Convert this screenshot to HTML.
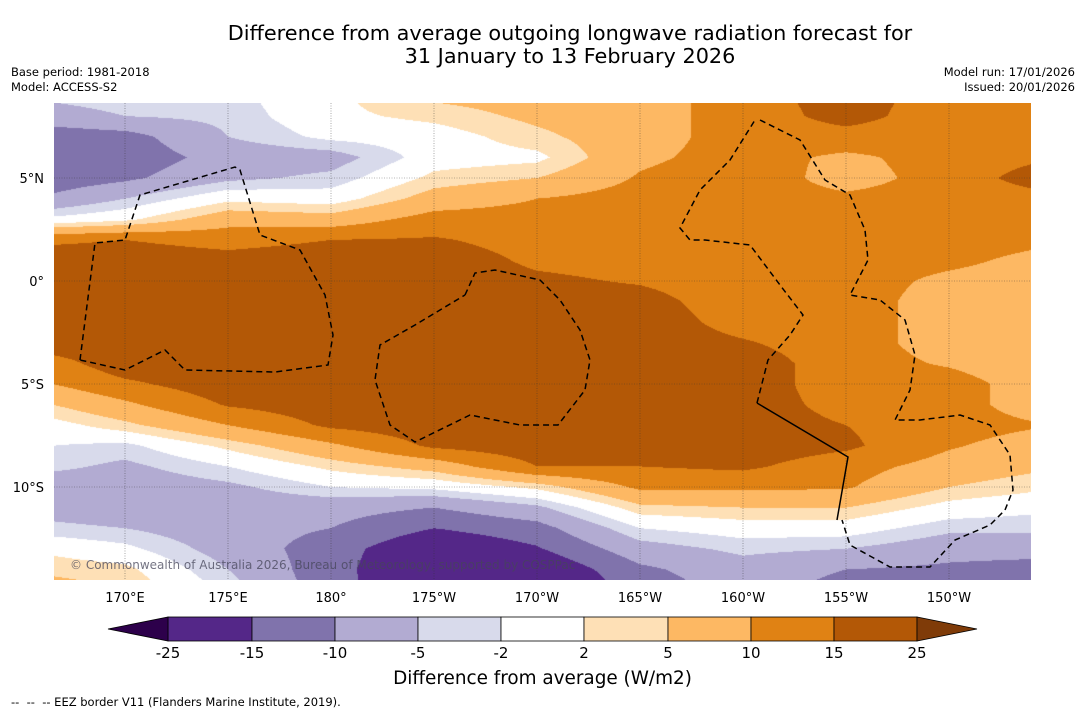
<!DOCTYPE html>
<html><head><meta charset="utf-8"><style>
body{margin:0;background:#fff;width:1085px;height:713px;overflow:hidden;position:relative;font-family:"Liberation Sans","DejaVu Sans",sans-serif;}
.t{position:absolute;color:#000;white-space:nowrap}
</style></head><body>
<div class="t" style="left:0;width:1140px;text-align:center;top:22px;font-size:20.8px;line-height:23px;font-family:'DejaVu Sans',sans-serif">Difference from average outgoing longwave radiation forecast for<br>31 January to 13 February 2026</div>
<div class="t" style="left:11px;top:65px;font-size:11.5px;line-height:15px;font-family:'DejaVu Sans',sans-serif">Base period: 1981-2018<br>Model: ACCESS-S2</div>
<div class="t" style="right:10px;top:65px;font-size:11.5px;line-height:15px;text-align:right;font-family:'DejaVu Sans',sans-serif">Model run: 17/01/2026<br>Issued: 20/01/2026</div>
<canvas id="map" width="977" height="477" style="position:absolute;left:54px;top:103px"></canvas>
<svg id="ov" width="1085" height="713" style="position:absolute;left:0;top:0"></svg>
<div class="t" style="left:70px;top:558px;font-size:12px;color:rgba(70,70,90,0.75);font-family:'DejaVu Sans',sans-serif">© Commonwealth of Australia 2026, Bureau of Meteorology, supported by COSPPac</div>
<div class="t" style="left:0;width:1085px;text-align:center;top:668px;font-size:18.4px;font-family:'DejaVu Sans',sans-serif">Difference from average (W/m2)</div>
<div class="t" style="left:11px;top:695px;font-size:11.5px;font-family:'DejaVu Sans',sans-serif">-- &nbsp;-- &nbsp;-- EEZ border V11 (Flanders Marine Institute, 2019).</div>
<script>
const lons=[166.5,170,175,180,185,190,195,200,205,210,214];
const lats=[9,8,7,6,5,4,3,2,1,0,-1,-2,-3,-4,-5,-6,-7,-8,-9,-10,-11,-12,-13,-14,-15];
const colA=[-4,-7,-13,-13,-13,-9,-1,14,18,18,18,18,18,13,10,5,0.5,-2,-4,-8,-7,-4,1,4,7];
const colB=[-3,-5,-12,-13,-11,-5,1,15,18,18,18,18,18,18,14,9,4,-3,-6,-8,-8,-5,-1,3,5];
const colC=[-3,-4,-5,-8,-6,1,8,13,17,18,18,18,18,18,18,15.5,10,3,-2,-6,-8,-8,-7,-5,-3];
const colD=[1,1,-1,-7,-4,0,7,15,18,18,18,18,18,18,18,18,16,9,3,-2,-8,-10,-12.5,-13,-13];
const colE=[6,3,0,0,3,7,12,15.5,18,18,18,18,18,18,18,18,18,16,7,-1,-10,-15,-20,-21,-20];
const colF=[7,6,4,1,5,10,12,13,14,16,18,18,18,18,18,18,18,18,15,3,-6,-12,-15.5,-20,-22];
const colG=[8,8,8,9,10.5,12,12,13,13,14.5,17,18,18,18,18,18,18,18,15,11,4,-2,-7,-11,-13];
const colH=[12,12,12,12,13,12,12,12,12,12,12,13,15.5,18,18,18,18,18,16,11,5,0,-4,-7,-8];
const colI=[18,17,13,9,8,11,12,12,12,12,12,12,12,12,12,13,15,16,12,10.5,5,0,-5,-10,-12];
const colJ=[12,12,12,12,12,12,12,12,11,9,8,8,8,9.5,12,12,12,10.5,8,5,0.5,-4,-8,-11,-12];
const colK=[12,12,12,14,17,13,12,11,9,8,7,7,7,7,8,8,10.5,8,6,3,-1,-4,-8,-12,-13];
const levels=[-25,-15,-10,-5,-2,2,5,10,15,25];
const levelLabels=["-25","-15","-10","-5","-2","2","5","10","15","25"];
const bandColors=["#2d004b","#542788","#8073ac","#b2abd2","#d8daeb","#ffffff","#fee0b6","#fdb863","#e08214","#b35806","#7f3b08"];
const lonTicks=[170,175,180,185,190,195,200,205,210];
const lonTickLabels=["170°E","175°E","180°","175°W","170°W","165°W","160°W","155°W","150°W"];
const latTicks=[5,0,-5,-10];
const latTickLabels=["5°N","0°","5°S","10°S"];
const cols=[colA,colB,colC,colD,colE,colF,colG,colH,colI,colJ,colK];

const X0=54,Y0=103,W=977,H=477,PX=20.6;
const xOf=lon=>125+(lon-170)*PX;
const yOf=lat=>281-lat*PX;
const lonOf=x=>170+(x-125)/PX;
const latOf=y=>(281-y)/PX;
function interp(arr,v){
  if(v<=arr[0])return[0,0];
  for(let i=0;i<arr.length-1;i++){if(v<=arr[i+1])return[i,(v-arr[i])/(arr[i+1]-arr[i])];}
  return[arr.length-2,1];
}
function field(lon,lat){
  const [ci,cf]=interp(lons,lon);
  const li=Math.min(lats.length-2,Math.max(0,Math.floor(9-lat)));
  let lf=(lats[li]-lat); lf=Math.max(0,Math.min(1,lf));
  const a=cols[ci][li],b=cols[ci][li+1],c=cols[ci+1][li],d=cols[ci+1][li+1];
  return (a*(1-lf)+b*lf)*(1-cf)+(c*(1-lf)+d*lf)*cf;
}
function hex(h){return[parseInt(h.substr(1,2),16),parseInt(h.substr(3,2),16),parseInt(h.substr(5,2),16)];}
const rgb=bandColors.map(hex);
function band(v){let k=0;while(k<levels.length&&v>=levels[k])k++;return k;}
const cv=document.getElementById('map'),ctx=cv.getContext('2d');
const img=ctx.createImageData(W,H);
for(let j=0;j<H;j++){const lat=latOf(Y0+j+0.5);
  for(let i=0;i<W;i++){const v=field(lonOf(X0+i+0.5),lat);const c=rgb[band(v)];const p=(j*W+i)*4;
    img.data[p]=c[0];img.data[p+1]=c[1];img.data[p+2]=c[2];img.data[p+3]=255;}}
ctx.putImageData(img,0,0);

const NS='http://www.w3.org/2000/svg',svg=document.getElementById('ov');
function mk(tag,attrs,parent){const e=document.createElementNS(NS,tag);for(const k in attrs)e.setAttribute(k,attrs[k]);(parent||svg).appendChild(e);return e;}
lonTicks.forEach((lon,i)=>{const x=xOf(lon);
  const g=mk('line',{x1:x,y1:Y0,x2:x,y2:Y0+H,stroke:'#333','stroke-width':0.6,'stroke-dasharray':'1,1.5','stroke-opacity':0.7});
  
  
  const t=mk('text',{x:x,y:602,'text-anchor':'middle','font-size':13,'font-family':'DejaVu Sans, sans-serif'});t.textContent=lonTickLabels[i];
  
  
});
latTicks.forEach((lat,i)=>{const y=yOf(lat);
  const g=mk('line',{x1:X0,y1:y,x2:X0+W,y2:y,stroke:'#333','stroke-width':0.6,'stroke-dasharray':'1,1.5','stroke-opacity':0.7});
  
  
  const t=mk('text',{x:44,y:y+5,'text-anchor':'end','font-size':13,'font-family':'DejaVu Sans, sans-serif'});t.textContent=latTickLabels[i];
  
  
});
const eez=[
 "80,360 95,243 125,240 140,195 235,167 240,170 260,235 300,250 325,295 333,335 328,365 275,372 185,370 165,350 125,370 80,360",
 "465,295 475,273 495,270 540,280 560,300 580,330 590,360 585,390 558,425 520,425 470,415 415,442 390,425 375,380 380,345 415,325 465,295",
 "760,120 800,140 825,180 850,195 865,230 868,260 850,295 880,300 905,320 915,355 910,390 895,420 920,420 960,415 990,425 1010,455 1013,490 1005,510 990,525 955,540 930,567 890,567 850,545 842,520",
 "757,403 768,360 790,335 803,315 780,285 750,245 705,240 690,240 680,228 700,190 730,160 755,120"];
eez.forEach(p=>{const e=mk('polyline',{points:p,fill:'none',stroke:'#000','stroke-width':1.5,'stroke-dasharray':'6,4'});
  
  });
const sol=mk('polyline',{points:"757,403 848,457 837,520",fill:'none',stroke:'#000','stroke-width':1.5});


const cbX=[168,252,335,418,501,584,668,751,834,917];
const cbY=617,cbH=24;
for(let k=0;k<levels.length-1;k++){
  const r=mk('rect',{x:cbX[k],y:cbY,width:cbX[k+1]-cbX[k],height:cbH,fill:bandColors[k+1],stroke:'#000','stroke-width':0.8});
  
  
}
const tl=mk('polygon',{points:`108,${cbY+cbH/2} 168,${cbY} 168,${cbY+cbH}`,fill:bandColors[0],stroke:'#000','stroke-width':0.8});


const tr=mk('polygon',{points:`977,${cbY+cbH/2} 917,${cbY} 917,${cbY+cbH}`,fill:bandColors[10],stroke:'#000','stroke-width':0.8});


levelLabels.forEach((l,k)=>{const t=mk('text',{x:cbX[k],y:658,'text-anchor':'middle','font-size':15,'font-family':'DejaVu Sans, sans-serif'});t.textContent=l;
  
  });
</script>
</body></html>
